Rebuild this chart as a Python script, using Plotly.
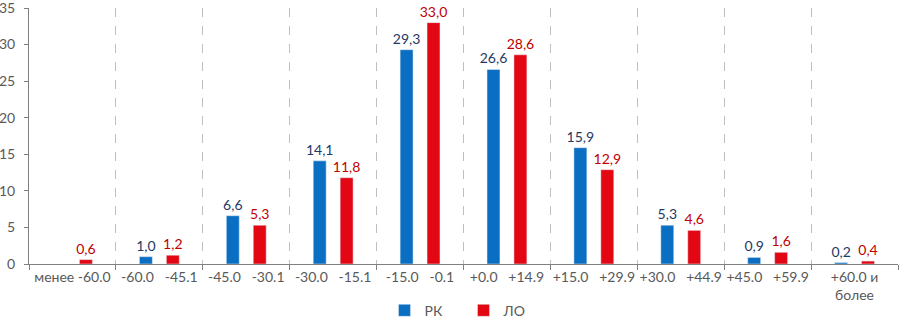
import plotly.graph_objects as go

categories = ["менее -60.0", "-60.0   -45.1", "-45.0   -30.1", "-30.0   -15.1",
              "-15.0   -0.1", "+0.0   +14.9", "+15.0   +29.9", "+30.0   +44.9",
              "+45.0   +59.9", "+60.0 и<br>более"]
rk = [None, 1.0, 6.6, 14.1, 29.3, 26.6, 15.9, 5.3, 0.9, 0.2]
lo = [0.6, 1.2, 5.3, 11.8, 33.0, 28.6, 12.9, 4.6, 1.6, 0.4]
y_ticks = [0, 5, 10, 15, 20, 25, 30, 35]

FONT = "Lato"

fig = go.Figure()
fig.add_trace(go.Bar(
    x=categories, y=rk, name="РК", marker_color="#0A6FC2",
    texttemplate="%{y:.1f}", textposition="outside", constraintext="none",
    textfont=dict(color="#1F3864", size=14, family=FONT), cliponaxis=False,
))
fig.add_trace(go.Bar(
    x=categories, y=lo, name="ЛО", marker_color="#E30613",
    texttemplate="%{y:.1f}", textposition="outside", constraintext="none",
    textfont=dict(color="#C00000", size=14, family=FONT), cliponaxis=False,
))

fig.update_layout(
    width=899, height=320,
    margin=dict(l=29, r=1, t=8, b=56, autoexpand=False),
    paper_bgcolor="white", plot_bgcolor="white",
    barmode="group", bargap=0.38, bargroupgap=0.52,
    separators=", ",
    font=dict(family=FONT, size=14, color="#595959"),
    showlegend=True,
    legend=dict(orientation="h", x=0.5, xanchor="center", y=-0.12, yanchor="top",
                font=dict(size=14, color="#595959"), itemwidth=30,
                entrywidth=34, entrywidthmode="pixels",
                itemclick=False, tracegroupgap=0),
)
fig.update_xaxes(
    type="category", tickson="boundaries", ticks="outside", ticklen=5,
    tickcolor="#808080", showline=True, linecolor="#808080", linewidth=1,
    showgrid=True, gridcolor="#BFBFBF", griddash="dash", gridwidth=1,
    tickfont=dict(size=14, color="#595959", family=FONT), tickangle=0,
    automargin=False,
)
fig.update_yaxes(
    range=[0, 35], tickvals=y_ticks, ticks="outside", ticklen=4,
    tickcolor="#808080", showline=True, linecolor="#808080", linewidth=1,
    showgrid=False, zeroline=False, automargin=False,
    ticklabelstandoff=6, ticklabeloverflow="allow",
    tickfont=dict(size=14, color="#595959", family=FONT),
)

fig.write_html(
    "out.html",
    config={"displayModeBar": False},
    post_script="document.body.style.margin='0';document.body.style.overflow='hidden';",
)
